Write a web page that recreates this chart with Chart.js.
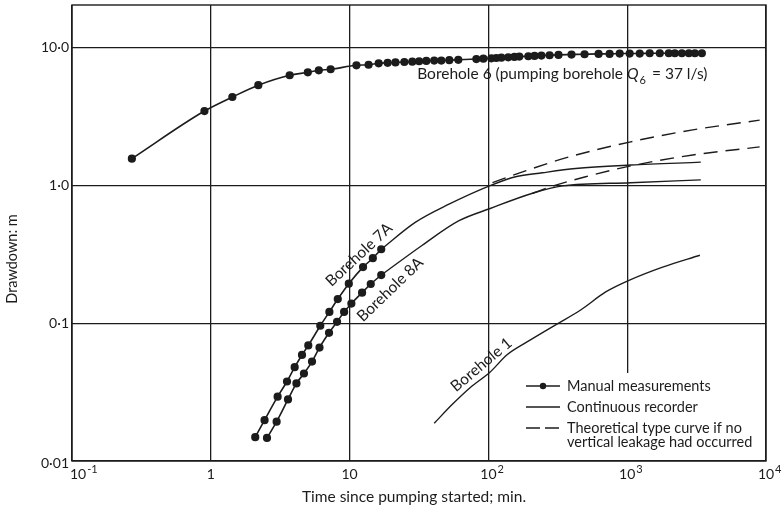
<!DOCTYPE html>
<html>
<head>
<meta charset="utf-8">
<script src="https://cdn.jsdelivr.net/npm/chart.js@4.4.0/dist/chart.umd.min.js"></script>
<style>
html, body { margin: 0; padding: 0; background: #fff; }
#wrap { width: 784px; height: 513px; }
</style>
</head>
<body>
<div id="wrap"><canvas id="grafico" width="784" height="513"></canvas></div>
<script>
// decade ticks
var xTicks = [0.1, 1, 10, 100, 1000, 10000];
var yTicks = [0.01, 0.1, 1, 10];
var xTickBase = ["10", "1", "10", "10", "10", "10"];
var xTickExp = ["-1", "", "", "2", "3", "4"];
var yTickLabels = ["0·01", "0·1", "1·0", "10·0"];

// Borehole 6 - manual measurements
var b6Time = [0.27, 0.9, 1.43, 2.2, 3.7, 5.0, 6.0, 7.3, 11.2, 13.7, 16.2, 18.8, 21.4, 24.8, 28.3, 31.7,
    35.7, 40.7, 45.8, 52.3, 60.7, 81.9, 92, 105, 114, 124, 139, 154, 167, 194, 215, 241, 276, 320, 397,
    493, 622, 747, 883, 1042, 1231, 1453, 1717, 1994, 2203, 2476, 2781, 3072, 3451];
var b6Drawdown = [1.57, 3.48, 4.4, 5.36, 6.33, 6.65, 6.88, 7.0, 7.48, 7.55, 7.73, 7.8, 7.85, 7.9, 7.95, 8.0,
    8.05, 8.1, 8.1, 8.15, 8.2, 8.3, 8.35, 8.4, 8.45, 8.5, 8.55, 8.6, 8.65, 8.7, 8.75, 8.8, 8.85, 8.9, 8.95,
    9.0, 9.05, 9.05, 9.1, 9.1, 9.1, 9.15, 9.15, 9.15, 9.15, 9.15, 9.15, 9.15, 9.15];

// Borehole 7A
var b7Time = [2.09, 2.44, 3.03, 3.54, 4.02, 4.54, 5.04, 6.15, 7.15, 8.22, 9.87, 12.5, 14.7, 16.9];
var b7Drawdown = [0.0149, 0.0198, 0.0293, 0.0378, 0.048, 0.0589, 0.0691, 0.096, 0.121, 0.150, 0.194, 0.256, 0.297, 0.345];
var b7RecTime = [16.9, 29.7, 52, 103, 157, 245, 425, 1060, 3390];
var b7RecDrawdown = [0.345, 0.541, 0.733, 1.0, 1.16, 1.24, 1.33, 1.41, 1.48];
var b7TheoTime = [107, 185, 360, 1060, 2970, 9000];
var b7TheoDrawdown = [1.05, 1.28, 1.59, 2.08, 2.54, 2.99];

// Borehole 8A
var b8Time = [2.54, 2.98, 3.60, 4.14, 4.69, 5.36, 6.07, 7.11, 8.12, 9.13, 10.3, 12.3, 14.2, 16.9];
var b8Drawdown = [0.0147, 0.0193, 0.028, 0.0366, 0.0432, 0.0527, 0.0666, 0.0853, 0.1025, 0.121, 0.139, 0.167, 0.193, 0.224];
var b8RecTime = [16.9, 33.4, 61.4, 103, 208, 342, 1060, 3390];
var b8RecDrawdown = [0.224, 0.369, 0.556, 0.682, 0.88, 0.995, 1.05, 1.10];
var b8TheoTime = [208, 290, 502, 1060, 2970, 9000];
var b8TheoDrawdown = [0.88, 0.99, 1.16, 1.39, 1.67, 1.91];

// Borehole 1 - continuous recorder
var b1Time = [40.7, 55, 74.1, 102, 137, 191, 305, 462, 700, 1040, 1800, 3340];
var b1Drawdown = [0.0188, 0.0258, 0.0342, 0.0439, 0.0593, 0.0735, 0.0975, 0.125, 0.169, 0.206, 0.256, 0.312];

var tinta = '#1c1c1c';
var fuente = 'Lato, "Open Sans", sans-serif';

function puntos(xs, ys) {
    return xs.map(function (x, i) { return {x: x, y: ys[i]}; });
}

function serie(xs, ys, conPuntos, guiones) {
    return {
        data: puntos(xs, ys),
        showLine: true,
        borderColor: tinta,
        backgroundColor: tinta,
        borderWidth: conPuntos ? 1.6 : 1.4,
        borderDash: guiones ? [14, 8] : [],
        pointRadius: conPuntos ? 3.3 : 0,
        pointHoverRadius: 0,
        cubicInterpolationMode: 'monotone'
    };
}

function textoRotado(ctx, txt, x, y, grados) {
    ctx.save();
    ctx.translate(x, y);
    ctx.rotate(grados * Math.PI / 180);
    ctx.textAlign = 'center';
    ctx.textBaseline = 'middle';
    ctx.fillText(txt, 0, 0);
    ctx.restore();
}

var rotulos = {
    id: 'rotulos',
    afterDraw: function (chart) {
        var ctx = chart.ctx;
        var a = chart.chartArea;
        var sx = chart.scales.x, sy = chart.scales.y;
        ctx.save();
        ctx.fillStyle = tinta;
        ctx.strokeStyle = tinta;

        // frame
        ctx.lineWidth = 1.4;
        ctx.strokeRect(a.left, a.top, a.right - a.left, a.bottom - a.top);

        // y tick labels
        ctx.font = '14px ' + fuente;
        ctx.textAlign = 'right';
        ctx.textBaseline = 'middle';
        yTicks.forEach(function (v, i) {
            var off = i === 0 ? 2 : 0;
            ctx.fillText(yTickLabels[i], a.left - 3, sy.getPixelForValue(v) + off);
        });

        // x tick labels with exponents
        ctx.textBaseline = 'middle';
        xTicks.forEach(function (v, i) {
            var px = sx.getPixelForValue(v);
            var py = 474;
            ctx.font = '14px ' + fuente;
            var w = ctx.measureText(xTickBase[i]).width;
            var x0 = i === 0 ? px - 2 : px - w / 2;
            ctx.textAlign = 'left';
            ctx.fillText(xTickBase[i], x0, py);
            if (xTickExp[i]) {
                ctx.font = '11px ' + fuente;
                ctx.fillText(xTickExp[i], x0 + w + 1, py - 5);
            }
        });

        // axis titles
        ctx.font = '15.5px ' + fuente;
        ctx.textAlign = 'center';
        ctx.fillText('Time since pumping started; min.', 414, 497);
        ctx.font = '14.5px ' + fuente;
        textoRotado(ctx, 'Drawdown: m', 12, 259, -90);

        // curve labels
        ctx.font = '15.5px ' + fuente;
        textoRotado(ctx, 'Borehole 7A', sx.getPixelForValue(11.7), sy.getPixelForValue(0.315), -43);
        textoRotado(ctx, 'Borehole 8A', sx.getPixelForValue(19.6), sy.getPixelForValue(0.176), -44);
        textoRotado(ctx, 'Borehole 1', sx.getPixelForValue(89), sy.getPixelForValue(0.05), -40);

        // Borehole 6 label with subscript
        var bx = sx.getPixelForValue(30.7), by = sy.getPixelForValue(6.5);
        ctx.textAlign = 'left';
        ctx.textBaseline = 'middle';
        var t1 = 'Borehole 6 (pumping borehole ';
        ctx.font = '15.5px ' + fuente;
        ctx.fillText(t1, bx, by);
        bx += ctx.measureText(t1).width;
        ctx.font = 'italic 15.5px ' + fuente;
        ctx.fillText('Q', bx, by);
        bx += ctx.measureText('Q').width;
        ctx.font = '11px ' + fuente;
        ctx.fillText('6', bx + 1, by + 7);
        bx += ctx.measureText('6').width + 3;
        ctx.font = '15.5px ' + fuente;
        ctx.fillText(' = 37 l/s)', bx, by);

        // legend box
        ctx.fillStyle = '#fff';
        ctx.fillRect(518, 373, a.right - 519, a.bottom - 374);
        ctx.fillStyle = tinta;
        ctx.lineWidth = 1.4;
        var lx0 = 526, lx1 = 560, tx = 567;
        ctx.beginPath(); ctx.moveTo(lx0, 386); ctx.lineTo(lx1, 386); ctx.stroke();
        ctx.beginPath(); ctx.arc(543, 386, 3.2, 0, Math.PI * 2); ctx.fill();
        ctx.beginPath(); ctx.moveTo(lx0, 407); ctx.lineTo(lx1, 407); ctx.stroke();
        ctx.beginPath(); ctx.moveTo(lx0, 428); ctx.lineTo(540, 428); ctx.moveTo(545, 428); ctx.lineTo(559, 428); ctx.stroke();
        ctx.font = '14.5px ' + fuente;
        ctx.textAlign = 'left';
        ctx.textBaseline = 'middle';
        ctx.fillText('Manual measurements', tx, 386);
        ctx.fillText('Continuous recorder', tx, 407);
        ctx.fillText('Theoretical type curve if no', tx, 428);
        ctx.fillText('vertical leakage had occurred', tx, 442);
        ctx.restore();
    }
};

var ctx = document.getElementById('grafico').getContext('2d');
var chart = new Chart(ctx, {
    type: 'scatter',
    data: {
        datasets: [
            serie(b6Time, b6Drawdown, true, false),
            serie(b7Time, b7Drawdown, true, false),
            serie(b8Time, b8Drawdown, true, false),
            serie(b7RecTime, b7RecDrawdown, false, false),
            serie(b8RecTime, b8RecDrawdown, false, false),
            serie(b7TheoTime, b7TheoDrawdown, false, true),
            serie(b8TheoTime, b8TheoDrawdown, false, true),
            serie(b1Time, b1Drawdown, false, false)
        ]
    },
    options: {
        responsive: false,
        animation: false,
        devicePixelRatio: 1,
        layout: {padding: {left: 0, top: 5, right: 18, bottom: 0}},
        plugins: {legend: {display: false}, tooltip: {enabled: false}},
        scales: {
            x: {
                type: 'logarithmic', min: 0.1, max: 10000,
                afterBuildTicks: function (s) { s.ticks = xTicks.map(function (v) { return {value: v}; }); },
                afterFit: function (s) { s.height = 52; },
                ticks: {display: false},
                grid: {color: tinta, lineWidth: 1.3, drawTicks: false},
                border: {display: false}
            },
            y: {
                type: 'logarithmic', min: 0.01, max: 20.5,
                afterBuildTicks: function (s) { s.ticks = yTicks.map(function (v) { return {value: v}; }); },
                afterFit: function (s) { s.width = 72; },
                ticks: {display: false},
                grid: {color: tinta, lineWidth: 1.3, drawTicks: false},
                border: {display: false}
            }
        }
    },
    plugins: [rotulos]
});
</script>
</body>
</html>
